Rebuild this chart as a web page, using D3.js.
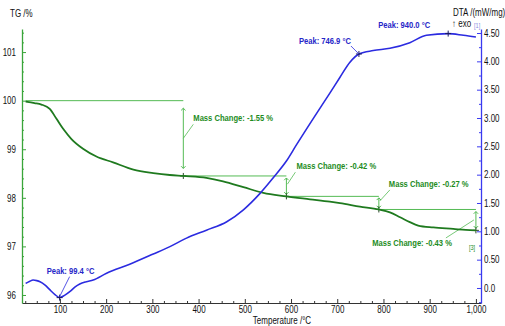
<!DOCTYPE html>
<html>
<head>
<meta charset="utf-8">
<script src="https://cdn.jsdelivr.net/npm/d3@7"></script>
<style>
  html, body { margin: 0; padding: 0; background: #fff; }
  svg { display: block; }
  text { font-family: "Liberation Sans", Arial, sans-serif; }
</style>
</head>
<body>
<svg id="chart" width="505" height="326"></svg>
<script>
// TG (mass, %) and DTA (mW/mg) curves recorded against temperature (°C)
const tgTemps  = [26, 45, 60, 78, 93, 107, 125, 150, 179, 215, 259, 302, 338, 367, 417, 453, 497, 540, 590, 641, 684, 706, 749, 790, 814, 836, 857, 875, 908, 951, 978, 1000];
const tgValues = [99.98, 99.95, 99.92, 99.83, 99.62, 99.42, 99.21, 99.01, 98.85, 98.73, 98.58, 98.51, 98.47, 98.45, 98.41, 98.34, 98.22, 98.10, 98.03, 97.97, 97.92, 97.89, 97.82, 97.76, 97.70, 97.60, 97.50, 97.43, 97.39, 97.36, 97.34, 97.33];

const dtaTemps  = [26, 35, 42, 50, 57, 68, 78, 90, 99.4, 110, 122, 133, 143, 157, 172, 201, 251, 302, 338, 374, 417, 461, 497, 533, 562, 590, 612, 648, 684, 706, 727, 746.9, 778, 814, 857, 893, 940.0, 973, 1000];
const dtaValues = [0.08, 0.12, 0.14, 0.13, 0.11, 0.05, -0.03, -0.12, -0.17, -0.13, -0.06, 0.02, 0.07, 0.11, 0.14, 0.26, 0.42, 0.60, 0.73, 0.88, 1.02, 1.17, 1.38, 1.67, 1.95, 2.24, 2.53, 2.99, 3.44, 3.72, 3.98, 4.13, 4.19, 4.23, 4.33, 4.46, 4.49, 4.46, 4.43];

// Axis ticks
const tempTicks = [100, 200, 300, 400, 500, 600, 700, 800, 900, 1000];
const tgTicks = [96, 97, 98, 99, 100, 101];
const dtaTicks = [0, 0.5, 1.0, 1.5, 2.0, 2.5, 3.0, 3.5, 4.0, 4.5];
const dtaTickLabels = ["0.0", "0.50", "1.00", "1.50", "2.00", "2.50", "3.00", "3.50", "4.00", "4.50"];

// Mass-change steps evaluated between these temperatures
const stepTemps = [26, 367, 590, 790, 1000];
const stepStartMass = 100.0;
const massChanges = [-1.55, -0.42, -0.27, -0.43];

// DTA peaks
const peakTemps = [99.4, 746.9, 940.0];

// ---------- drawing ----------
const svg = d3.select("#chart");
svg.append("rect").attr("width", 505).attr("height", 326).attr("fill", "#fff");

const SX = 0.8; // horizontal text compression
const x = d3.scaleLinear().domain([18, 1011]).range([22, 481]);
const yTG = d3.scaleLinear().domain([95.835, 101.475]).range([303, 29]);
const yDTA = d3.scaleLinear().domain([-0.265, 4.571]).range([303, 29]);

const C = {
  tgLine: "#1f7a1f", tgAxis: "#3aa53a", annLine: "#55bb55", annText: "#1e8c1e",
  dtaLine: "#2b2be0", dtaAxis: "#3a3af0", peakText: "#2626c8", axisDark: "#333"
};

function label(g, px, py, str, o = {}) {
  return g.append("text")
    .attr("transform", `translate(${px},${py}) scale(${SX},1)`)
    .attr("text-anchor", o.anchor || "start")
    .attr("font-size", (o.size || 10) + "px")
    .attr("font-weight", o.bold ? "bold" : "normal")
    .attr("fill", o.fill || "#111")
    .text(str);
}

function squeezeTicks(sel) {
  sel.selectAll(".tick text").each(function () {
    const t = d3.select(this);
    const tx = +t.attr("x") || 0;
    t.attr("x", tx / SX).attr("transform", `scale(${SX},1)`);
  });
}

// Bottom axis (temperature)
const gx = svg.append("g").attr("transform", "translate(0,303)");
gx.call(d3.axisBottom(x).tickValues(tempTicks).tickSizeInner(-4).tickSizeOuter(0).tickPadding(3));
gx.select(".domain").attr("stroke", C.axisDark);
gx.selectAll(".tick line").attr("stroke", C.axisDark);
gx.selectAll(".tick text").attr("font-size", "10px").attr("fill", "#111").attr("font-family", "Liberation Sans, Arial, sans-serif");
squeezeTicks(gx);
const minorTemps = d3.range(25, 1001, 25).filter(v => v % 100 !== 0);
svg.append("g").attr("transform", "translate(0,303)")
  .call(d3.axisBottom(x).tickValues(minorTemps).tickSizeInner(-2).tickSizeOuter(0).tickFormat(""))
  .call(g => g.select(".domain").remove())
  .selectAll("line").attr("stroke", C.axisDark);

// Left axis (TG)
const gl = svg.append("g").attr("transform", "translate(22,0)");
gl.call(d3.axisLeft(yTG).tickValues(tgTicks).tickFormat(d3.format("d")).tickSizeInner(-4).tickSizeOuter(0).tickPadding(6));
gl.select(".domain").attr("stroke", C.tgAxis).attr("stroke-width", 1.3);
gl.selectAll(".tick line").attr("stroke", C.tgAxis);
gl.selectAll(".tick text").attr("font-size", "10px").attr("fill", "#111").attr("font-family", "Liberation Sans, Arial, sans-serif");
squeezeTicks(gl);
const minorTG = d3.range(96, 101.41, 0.2).filter(v => Math.abs(v - Math.round(v)) > 0.01);
svg.append("g").attr("transform", "translate(22,0)")
  .call(d3.axisLeft(yTG).tickValues(minorTG).tickSizeInner(-2).tickSizeOuter(0).tickFormat(""))
  .call(g => g.select(".domain").remove())
  .selectAll("line").attr("stroke", C.tgAxis);

// Right axis (DTA)
const gr = svg.append("g").attr("transform", "translate(481,0)");
gr.call(d3.axisRight(yDTA).tickValues(dtaTicks).tickFormat((d, i) => dtaTickLabels[i]).tickSizeInner(-4).tickSizeOuter(0).tickPadding(3));
gr.select(".domain").attr("stroke", C.dtaAxis).attr("stroke-width", 1.3);
gr.selectAll(".tick line").attr("stroke", C.dtaAxis);
gr.selectAll(".tick text").attr("font-size", "10px").attr("fill", "#111").attr("font-family", "Liberation Sans, Arial, sans-serif");
squeezeTicks(gr);
const minorDTA = d3.range(-0.25, 4.56, 0.25).filter(v => Math.abs(v * 2 - Math.round(v * 2)) > 0.01);
svg.append("g").attr("transform", "translate(481,0)")
  .call(d3.axisRight(yDTA).tickValues(minorDTA).tickSizeInner(-2).tickSizeOuter(0).tickFormat(""))
  .call(g => g.select(".domain").remove())
  .selectAll("line").attr("stroke", C.dtaAxis);

// Axis titles
label(svg, 10, 17, "TG /%");
label(svg, 453, 16, "DTA /(mW/mg)");
label(svg, 452, 27, "\u2191 exo");
label(svg, 282, 323.5, "Temperature /\u00B0C", { anchor: "middle" });
label(svg, 474, 28, "[1]", { size: 7, fill: "#8a8ae0" });

// Mass-change annotations
const ann = svg.append("g");
const levels = [stepStartMass];
massChanges.forEach((d, i) => levels.push(+(levels[i] + d).toFixed(2)));
const massLabelLayout = [
  { dx: 10, dy: -17, anchor: "start", lx: 10, ly: -14, mx: 0, my: 0 },
  { dx: 10, dy: -17, anchor: "start", lx: 9, ly: -14, mx: 1, my: -2 },
  { dx: 10, dy: -16, anchor: "start", lx: 11, ly: -13, mx: 1, my: -2 },
  { dx: -24, dy: 26, anchor: "end", lx: -30, ly: 18, mx: -2, my: 0 }
];
const arrowSize = 2.2;
massChanges.forEach((chg, i) => {
  const x0 = x(stepTemps[i]), x1 = x(stepTemps[i + 1]);
  const yA = yTG(levels[i]), yB = yTG(levels[i + 1]);
  // reference level line
  ann.append("line").attr("x1", x0).attr("x2", x1).attr("y1", yA).attr("y2", yA)
    .attr("stroke", C.annLine).attr("stroke-width", 1);
  // vertical dimension with arrow tips
  const gap = Math.max(1.5, (yB - yA) * 0.1);
  const t = yA + gap, b = yB - gap;
  ann.append("line").attr("x1", x1).attr("x2", x1).attr("y1", t).attr("y2", b)
    .attr("stroke", C.annLine).attr("stroke-width", 1);
  ann.append("path").attr("d", `M${x1 - arrowSize},${t + arrowSize}L${x1},${t}L${x1 + arrowSize},${t + arrowSize}`)
    .attr("fill", "none").attr("stroke", C.annLine).attr("stroke-width", 1);
  ann.append("path").attr("d", `M${x1 - arrowSize},${b - arrowSize}L${x1},${b}L${x1 + arrowSize},${b - arrowSize}`)
    .attr("fill", "none").attr("stroke", C.annLine).attr("stroke-width", 1);
  // step marker on the curve
  ann.append("path").attr("d", `M${x1 - 3},${yB}h6M${x1},${yB - 3}v6`)
    .attr("stroke", "#2a4a2a").attr("stroke-width", 1);
  // label with leader
  const L = massLabelLayout[i];
  const mid = (yA + yB) / 2;
  ann.append("line").attr("x1", x1 + L.lx).attr("y1", mid + L.ly).attr("x2", x1 + L.mx).attr("y2", mid + L.my)
    .attr("stroke", C.annLine).attr("stroke-width", 0.8);
  label(ann, x1 + L.dx, mid + L.dy, `Mass Change: ${chg.toFixed(2)} %`, { anchor: L.anchor, size: 9.5, bold: true, fill: C.annText });
});
label(ann, x(stepTemps[4]) - 7, 250, "[3]", { size: 7, fill: C.annText });

// Curves
const tgData = tgTemps.map((t, i) => [t, tgValues[i]]);
const dtaData = dtaTemps.map((t, i) => [t, dtaValues[i]]);
svg.append("path").datum(tgData)
  .attr("d", d3.line().x(d => x(d[0])).y(d => yTG(d[1])).curve(d3.curveMonotoneX))
  .attr("fill", "none").attr("stroke", C.tgLine).attr("stroke-width", 1.8);
svg.append("path").datum(dtaData)
  .attr("d", d3.line().x(d => x(d[0])).y(d => yDTA(d[1])).curve(d3.curveMonotoneX))
  .attr("fill", "none").attr("stroke", C.dtaLine).attr("stroke-width", 1.6);

// Peak markers and labels
const peakLayout = [
  { dx: -13, dy: -24, anchor: "start", l: [10, -21, 0, -1] },
  { dx: -8, dy: -10, anchor: "end", l: [-8, -8, 0, 0] },
  { dx: -18, dy: -6, anchor: "end", l: null }
];
const pk = svg.append("g");
peakTemps.forEach((t, i) => {
  const v = dtaValues[dtaTemps.indexOf(t)];
  const px = x(t), py = yDTA(v);
  pk.append("path").attr("d", `M${px - 3},${py}h6M${px},${py - 3}v6`).attr("stroke", "#1a1a60").attr("stroke-width", 1);
  const L = peakLayout[i];
  if (L.l) {
    pk.append("line").attr("x1", px + L.l[0]).attr("y1", py + L.l[1]).attr("x2", px + L.l[2]).attr("y2", py + L.l[3])
      .attr("stroke", C.dtaLine).attr("stroke-width", 0.8);
  }
  label(pk, px + L.dx, py + L.dy, `Peak: ${t.toFixed(1)} \u00B0C`, { anchor: L.anchor, size: 9.5, bold: true, fill: C.peakText });
});
</script>
</body>
</html>
